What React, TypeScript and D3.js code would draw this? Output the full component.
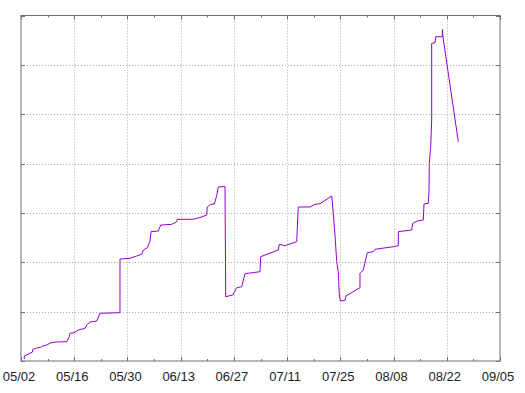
import React from "react";
import * as d3 from "d3";

// day offsets from 05/02 (fractional) and values
const days = [0.87,0.87,2.37,3.03,3.08,4.13,5.18,5.71,6.76,7.89,9.21,12.02,12.71,12.89,13.94,15.07,16.84,17.28,18.15,19.91,20.78,26.04,26.04,28.67,30.43,31.75,32.17,33.22,33.93,34.2,36.12,36.75,39.64,40.96,41.11,45.32,47.53,48.85,49.0,49.9,50.85,51.48,51.9,53.66,53.85,55.69,56.74,58.06,58.92,62.87,63.05,64.18,67.68,67.95,69.44,72.52,72.94,76.02,77.34,78.65,81.73,81.89,82.6,83.05,83.46,83.73,83.99,85.23,85.49,89.17,89.17,90.04,91.09,92.67,93.12,97.93,99.25,99.25,102.77,103.04,104.25,105.83,106.01,107.14,107.33,107.4,107.77,108.03,108.03,108.9,109.08,110.82,110.87,110.95,115.03];
const values = [0.41,1.01,1.56,1.82,2.37,2.63,2.78,3.04,3.24,3.71,3.85,3.91,4.92,5.61,5.73,6.28,6.62,7.29,7.9,8.1,9.66,9.79,20.66,20.81,21.27,21.62,22.49,22.95,24.17,26.2,26.34,27.55,27.69,28.22,28.71,28.71,29.17,29.58,31.2,31.75,31.81,33.49,35.25,35.35,13.03,13.37,14.85,15.05,17.69,18.09,21.13,21.47,22.49,23.64,23.36,24.17,31.2,31.2,31.75,31.87,33.43,32.27,25.53,20.12,18.09,13.37,12.16,12.26,13.17,14.85,17.77,18.44,21.94,22.14,22.63,23.16,23.36,26.2,26.54,27.9,28.36,28.57,31.81,31.95,34.64,40.05,43.42,48.82,64.36,64.48,65.7,65.7,67.16,65.9,44.43];
const xTickLabels = ["05/02","05/16","05/30","06/13","06/27","07/11","07/25","08/08","08/22","09/05"];
const yTicks = [0, 10, 20, 30, 40, 50, 60, 70];

const DAY = 86400000;
const start = Date.UTC(2016, 4, 2);
const end = Date.UTC(2016, 8, 5);

export default function App() {
  const W = 525, H = 393;
  const L = 21, R = 500, T = 15.5, B = 361;
  const x = d3.scaleUtc().domain([new Date(start), new Date(end)]).range([L, R]);
  const y = d3.scaleLinear().domain([0, 70]).range([B, T]);
  const majors = xTickLabels.map((_, i) => new Date(start + i * 14 * DAY));
  const minors = xTickLabels.slice(0, -1).map((_, i) => new Date(start + (i * 14 + 7) * DAY));
  const fmt = d3.utcFormat("%m/%d");
  const pts: [number, number][] = days.map((d, i) => [x(new Date(start + d * DAY)), y(values[i])]);
  const line = d3.line()(pts) || "";
  const grid = "#a8a8a8";
  const axis = "#707070";
  return (
    <svg width={W} height={H} style={{ position: "absolute", left: 0, top: 0, background: "#fff" }}
      fontFamily="'Liberation Sans', Arial, sans-serif">
      {majors.slice(1, -1).map((d, i) => (
        <line key={"gx" + i} x1={Math.round(x(d)) + 0.5} x2={Math.round(x(d)) + 0.5} y1={T} y2={B}
          stroke={grid} strokeWidth={1} strokeDasharray="1,2" />
      ))}
      {yTicks.slice(1, -1).map((v, i) => (
        <line key={"gy" + i} x1={L} x2={R} y1={Math.round(y(v)) + 0.5} y2={Math.round(y(v)) + 0.5}
          stroke={grid} strokeWidth={1} strokeDasharray="1,2" />
      ))}
      {majors.map((d, i) => {
        const px = Math.round(x(d)) + 0.5;
        return (
          <g key={"tx" + i}>
            <line x1={px} x2={px} y1={B} y2={B - 4} stroke={axis} />
            <line x1={px} x2={px} y1={T} y2={T + 4} stroke={axis} />
            <text x={x(d) - 2} y={381} textAnchor="middle" fontSize={13} fill="#222">{fmt(d)}</text>
          </g>
        );
      })}
      {minors.map((d, i) => {
        const px = Math.round(x(d)) + 0.5;
        return (
          <g key={"mx" + i}>
            <line x1={px} x2={px} y1={B} y2={B - 2} stroke={axis} />
            <line x1={px} x2={px} y1={T} y2={T + 2} stroke={axis} />
          </g>
        );
      })}
      {yTicks.map((v, i) => {
        const py = Math.round(y(v)) + 0.5;
        return (
          <g key={"ty" + i}>
            <line x1={L} x2={L + 4} y1={py} y2={py} stroke={axis} />
            <line x1={R} x2={R - 4} y1={py} y2={py} stroke={axis} />
          </g>
        );
      })}
      <rect x={L} y={T} width={R - L} height={B - T} fill="none" stroke={axis} strokeWidth={1} />
      <path d={line} fill="none" stroke="#9400d3" strokeWidth={1} />
    </svg>
  );
}
